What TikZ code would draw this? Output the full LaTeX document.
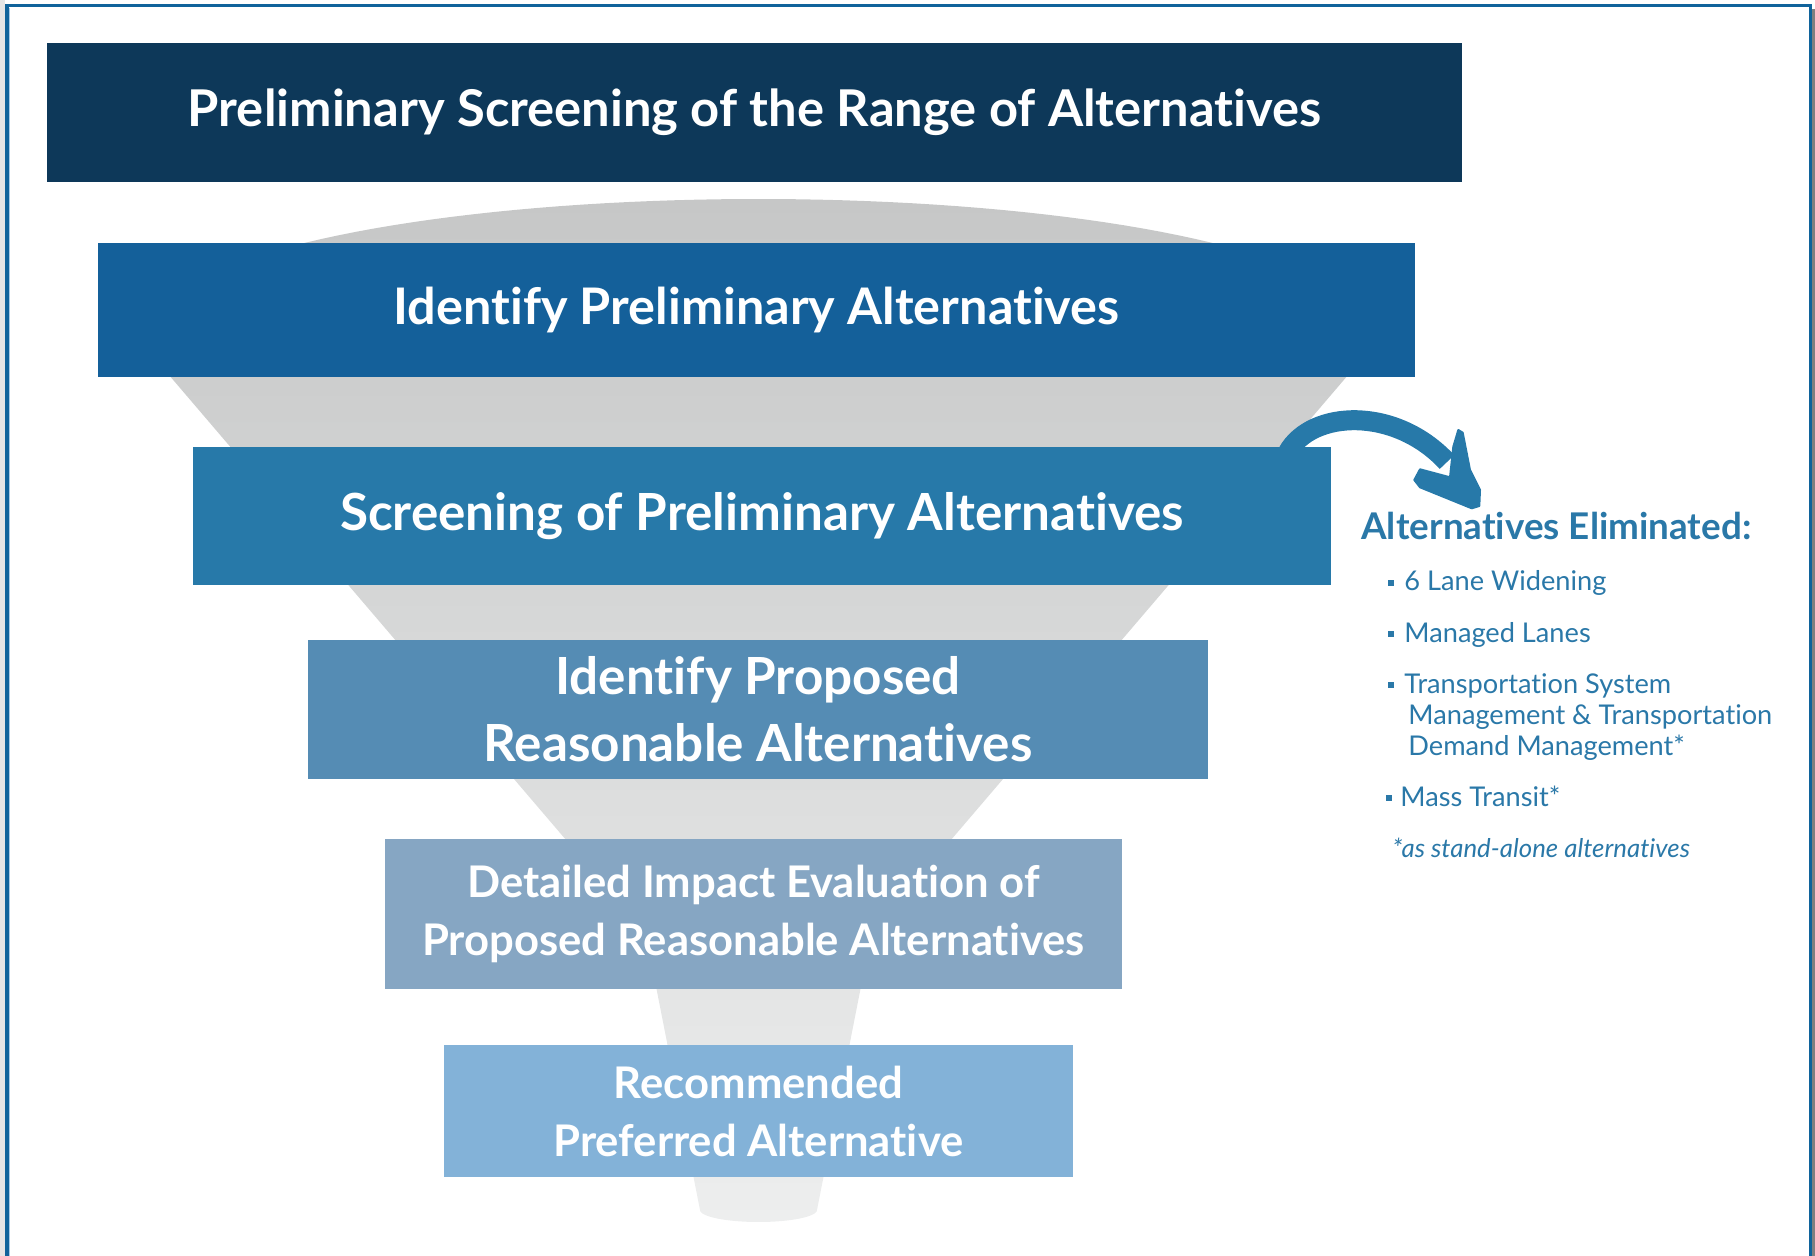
\documentclass[tikz,border=0pt]{standalone}
\usepackage{fontspec}
\setmainfont{Lato}[Ligatures=NoCommon]
\usetikzlibrary{calc}

\definecolor{navy}{HTML}{0D3859}
\definecolor{stageA}{HTML}{14609A}
\definecolor{stageB}{HTML}{2779A9}
\definecolor{stageC}{HTML}{558CB4}
\definecolor{stageD}{HTML}{86A6C3}
\definecolor{stageE}{HTML}{83B2D8}
\definecolor{elimblue}{HTML}{2A78A8}
\definecolor{frameblue}{HTML}{10639B}
\definecolor{funneltop}{HTML}{C6C7C7}
\definecolor{funnelmid}{HTML}{D3D4D4}
\definecolor{funnelbot}{HTML}{EDEEEE}

\begin{document}
\begin{tikzpicture}[x=0.5pt,y=-0.5pt,
  stage/.style={fill=#1, text=white, inner sep=0pt, outer sep=0pt, align=center,
    font=\bfseries\fontsize{25.2}{33.5}\selectfont},
  widestage/.style={stage=#1, font=\bfseries\fontsize{25.6}{33.5}\selectfont},
  smallstage/.style={stage=#1, font=\bfseries\fontsize{21.8}{29}\selectfont},
  elimhead/.style={anchor=base west, inner sep=0pt, text=elimblue,
    font=\bfseries\fontsize{18.4}{22}\selectfont},
  elimitem/.style={anchor=base west, inner sep=0pt, text=elimblue,
    font=\fontsize{13.6}{16}\selectfont},
  elimnote/.style={anchor=base west, inner sep=0pt, text=elimblue,
    font=\itshape\fontsize{12.9}{14}\selectfont},
  bulletsq/.style={fill=elimblue},
  arrowline/.style={draw=stageB, line width=10pt},
  arrowhead/.style={fill=stageB, draw=stageB, line width=1pt, line join=round}]

\useasboundingbox (0,0) rectangle (1815,1256);
\clip (0,0) rectangle (1815,1256);

% page frame with its shadow
\fill[black!10] (0,0) rectangle (5,1256);
\fill[black!50] (1812,9) rectangle (1815,1256);
\draw[frameblue, line width=1.75pt] (7,1300) -- (7,5.5) -- (1810.5,5.5) -- (1810.5,1300);
\draw[stageE!70, line width=0.5pt] (9.8,8) -- (9.8,1300);

% funnel: rim ellipse, cone and spout filled as one shape
\shade[top color=funneltop, middle color=funnelmid, bottom color=funnelbot]
  (130.5,330) -- (158.5,326)
  -- plot[domain=180:360, samples=80] ({758.5+600*cos(\x)}, {326+127*sin(\x)})
  -- (1386.5,330) -- (871.5,933) -- (817,1210)
  -- plot[domain=0:180, samples=40] ({758.5+58.5*cos(\x)}, {1210+12*sin(\x)})
  -- (700,1210) -- (645.5,933) -- cycle;

% stages of the screening process
\node[widestage=stageB, minimum width=569pt, minimum height=69pt] (s3) at (762,516)
  {Screening of Preliminary Alternatives};

% arrow to the eliminated alternatives
\coordinate (arrowfrom) at ($(s3.north east)+(-43,5)$);
\coordinate (arrowto) at (1447,462);
\draw[arrowline] (arrowfrom) .. controls (1312,410) and (1395,406) .. (arrowto);
\fill[arrowhead] (1458.3,430) -- (1462.7,432.7) -- (1470,470) -- (1480,490)
  -- (1479.3,506) -- (1471.7,508.3) -- (1420,487.3) -- (1414.3,480)
  -- (1420,469.3) -- (1450,477.3) -- (1453.3,446.7) -- cycle;

% redraw the box so the arrow starts behind it
\node[widestage=stageB, minimum width=569pt, minimum height=69pt] (s3top) at (762,516)
  {Screening of Preliminary Alternatives};

\node[stage=navy, font=\bfseries\fontsize{25.35}{33.5}\selectfont,
  minimum width=707.5pt, minimum height=69.5pt] (s1) at (754.5,112.5)
  {Preliminary Screening of the Range of Alternatives};
\node[stage=stageA, minimum width=658.5pt, minimum height=67pt] (s2) at (756.5,310)
  {Identify Preliminary Alternatives};
\node[widestage=stageC, minimum width=450pt, minimum height=69.5pt] (s4) at (758,709.5)
  {Identify Proposed\\Reasonable Alternatives};
\node[smallstage=stageD, minimum width=368.5pt, minimum height=75pt] (s5) at (753.5,914)
  {Detailed Impact Evaluation of\\Proposed Reasonable Alternatives};
\node[smallstage=stageE, minimum width=314.5pt, minimum height=66pt] (s6) at (758.5,1111)
  {Recommended\\Preferred Alternative};

% eliminated alternatives list
\node[elimhead] (elim) at (1361,540) {Alternatives Eliminated:};
\fill[bulletsq] (1388,580) rectangle (1394,586);
\node[elimitem] (e1) at (1404,591) {6 Lane Widening};
\fill[bulletsq] (1388,631) rectangle (1394,637);
\node[elimitem] (e2) at (1404,642) {Managed Lanes};
\fill[bulletsq] (1388,682) rectangle (1394,688);
\node[elimitem] (e3a) at (1404,693) {Transportation System};
\node[elimitem] (e3b) at (1408,724) {Management \& Transportation};
\node[elimitem] (e3c) at (1408,755) {Demand Management*};
\fill[bulletsq] (1386,795) rectangle (1392,801);
\node[elimitem] (e4) at (1400,806) {Mass Transit*};
\node[elimnote] (note) at (1392,857) {*as stand-alone alternatives};

\end{tikzpicture}
\end{document}
